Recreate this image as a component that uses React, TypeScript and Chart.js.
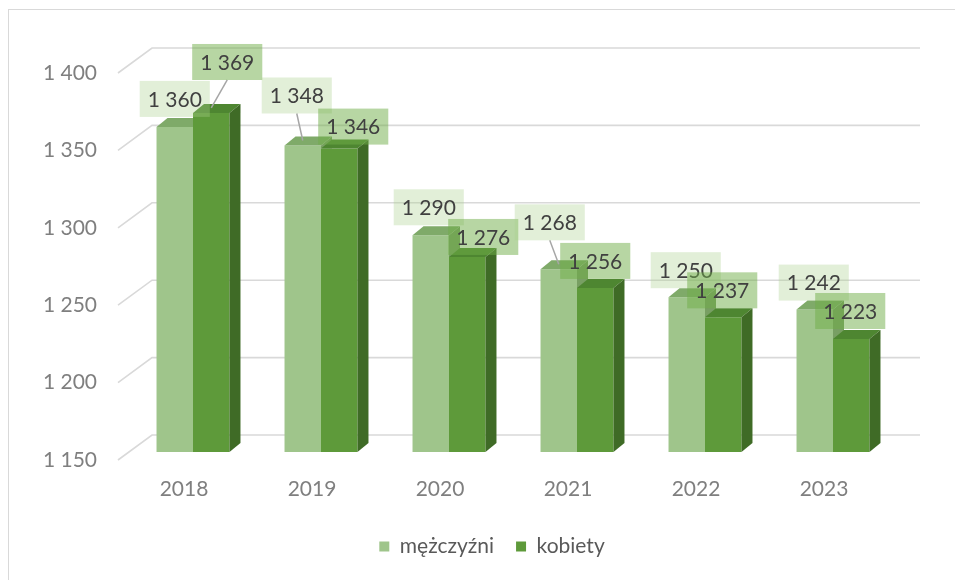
import React, { useEffect, useRef } from 'react';
import { Chart, registerables } from 'chart.js';

Chart.register(...registerables);

// ---- data ----
const categories = ['2018', '2019', '2020', '2021', '2022', '2023'];
const menValues = [1360, 1348, 1290, 1268, 1250, 1242];
const womenValues = [1369, 1346, 1276, 1256, 1237, 1223];
const seriesNames = ['mężczyźni', 'kobiety'];
const yMin = 1150;
const yMax = 1400;
const yStep = 50;

// ---- styles ----
const FONT = 'Lato';
const FONT_SIZE = 21;
const menColors = { front: '#9FC58B', top: '#7FAA69', side: '#789F63' };
const womenColors = { front: '#5E9A3A', top: '#4E8631', side: '#3F6B26' };
const labelBoxColors = ['rgba(169,209,142,0.34)', 'rgba(112,173,71,0.5)'];
// manual nudges of the data-label boxes (pixels) [dx, dy]
const menLabelNudge = [[0, 0], [-6, -22], [-2, 0], [-9, -19], [-1, 1], [-1, 1]];
const womenLabelNudge = [[16, -23], [14, 6], [16, 8], [0, 1], [-1, 1], [-1, 0]];
const DEPTH_X = 11;
const DEPTH_Y = 9;
const LEGEND_CENTER_X = 492;

const fmt = (v: number) => String(v).replace(/\B(?=(\d{3})+(?!\d))/g, ' ');

const wallPlugin = {
  id: 'wall3d',
  beforeDatasetsDraw(chart: any) {
    const { ctx, chartArea, scales } = chart;
    const y = scales.y;
    ctx.save();
    ctx.strokeStyle = '#d9d9d9';
    ctx.lineWidth = 1.6;
    y.ticks.forEach((t: any) => {
      const py = y.getPixelForValue(t.value);
      ctx.beginPath();
      ctx.moveTo(chartArea.left - 11, py + 8);
      ctx.lineTo(chartArea.left + 23, py - 17);
      ctx.lineTo(chartArea.right + 23, py - 17);
      ctx.stroke();
    });
    ctx.restore();
  },
};

const poly = (ctx: any, pts: number[][], color: string) => {
  ctx.beginPath();
  ctx.moveTo(pts[0][0], pts[0][1]);
  for (let i = 1; i < pts.length; i++) ctx.lineTo(pts[i][0], pts[i][1]);
  ctx.closePath();
  ctx.fillStyle = color;
  ctx.fill();
};

const barsPlugin = {
  id: 'bars3d',
  afterDatasetsDraw(chart: any) {
    const { ctx, chartArea } = chart;
    const m = chart.getDatasetMeta(0);
    const w = chart.getDatasetMeta(1);
    for (let i = 0; i < categories.length; i++) {
      const mb = m.data[i].getProps(['x', 'y', 'base', 'width'], true);
      const wb = w.data[i].getProps(['x', 'y', 'base', 'width'], true);
      const mBase = Math.min(mb.base, chartArea.bottom);
      const wBase = Math.min(wb.base, chartArea.bottom);
      const mx1 = mb.x - mb.width / 2;
      const mx2 = mb.x + mb.width / 2;
      ctx.save();
      ctx.beginPath();
      ctx.rect(0, 0, chart.width, chart.height);
      ctx.rect(wb.x - wb.width / 2, wb.y, wb.width, wBase - wb.y);
      ctx.clip('evenodd');
      poly(ctx, [[mx1, mb.y], [mx2, mb.y], [mx2 + DEPTH_X, mb.y - DEPTH_Y], [mx1 + DEPTH_X, mb.y - DEPTH_Y]], menColors.top);
      poly(ctx, [[mx2, mb.y], [mx2 + DEPTH_X, mb.y - DEPTH_Y], [mx2 + DEPTH_X, mBase - DEPTH_Y], [mx2, mBase]], menColors.side);
      ctx.restore();
      const wx1 = wb.x - wb.width / 2;
      const wx2 = wb.x + wb.width / 2;
      poly(ctx, [[wx1, wb.y], [wx2, wb.y], [wx2 + DEPTH_X, wb.y - DEPTH_Y], [wx1 + DEPTH_X, wb.y - DEPTH_Y]], womenColors.top);
      poly(ctx, [[wx2, wb.y], [wx2 + DEPTH_X, wb.y - DEPTH_Y], [wx2 + DEPTH_X, wBase - DEPTH_Y], [wx2, wBase]], womenColors.side);
    }
  },
};

const labelsPlugin = {
  id: 'boxLabels',
  afterDatasetsDraw(chart: any) {
    const { ctx } = chart;
    ctx.save();
    ctx.font = `${FONT_SIZE}px ${FONT}`;
    ctx.textAlign = 'center';
    ctx.textBaseline = 'middle';
    const nudges = [menLabelNudge, womenLabelNudge];
    for (let i = 0; i < categories.length; i++) {
      for (let d = 0; d < 2; d++) {
        const bar = chart.getDatasetMeta(d).data[i].getProps(['x', 'y'], true);
        const value = chart.data.datasets[d].data[i];
        const text = fmt(value);
        const tw = ctx.measureText(text).width;
        const bw = tw + 16;
        const bh = 36;
        const cx = bar.x + nudges[d][i][0];
        const cy = bar.y - 28 + nudges[d][i][1];
        const bottom = cy + bh / 2;
        if (bottom < bar.y - 15) {
          ctx.strokeStyle = '#a6a6a6';
          ctx.lineWidth = 1.5;
          ctx.beginPath();
          ctx.moveTo(cx, bottom);
          ctx.lineTo(bar.x, bar.y - 5);
          ctx.stroke();
        }
        ctx.fillStyle = labelBoxColors[d];
        ctx.fillRect(cx - bw / 2, cy - bh / 2, bw, bh);
        ctx.fillStyle = '#404040';
        ctx.fillText(text, cx, cy + 1);
      }
    }
    ctx.restore();
  },
};

const legendShiftPlugin = {
  id: 'legendShift',
  afterLayout(chart: any) {
    const lg = chart.legend;
    if (!lg) return;
    const shift = LEGEND_CENTER_X - (lg.left + lg.right) / 2;
    lg.left += shift;
    lg.right += shift;
  },
};

export default function App() {
  const ref = useRef<HTMLCanvasElement | null>(null);
  useEffect(() => {
    document.body.style.margin = '0';
    document.body.style.overflow = 'hidden';
    if (!ref.current) return;
    Chart.defaults.font.family = FONT;
    const chart = new Chart(ref.current, {
      type: 'bar',
      data: {
        labels: categories,
        datasets: [
          { label: seriesNames[0], data: menValues, backgroundColor: menColors.front, borderWidth: 0, categoryPercentage: 0.57, barPercentage: 1 },
          { label: seriesNames[1], data: womenValues, backgroundColor: womenColors.front, borderWidth: 0, categoryPercentage: 0.57, barPercentage: 1 },
        ],
      },
      options: {
        responsive: false,
        maintainAspectRatio: false,
        animation: false,
        events: [],
        layout: { padding: { left: 39, right: 58, top: 65, bottom: 21 } },
        scales: {
          x: {
            grid: { display: false, drawTicks: false },
            border: { display: false },
            ticks: { color: '#7f7f7f', font: { size: FONT_SIZE, family: FONT }, padding: 25, labelOffset: -9 },
            afterFit: (s: any) => { s.height = 62; },
          },
          y: {
            min: yMin,
            max: yMax,
            grid: { display: false, drawTicks: false },
            border: { display: false },
            ticks: {
              stepSize: yStep,
              color: '#7f7f7f',
              font: { size: FONT_SIZE, family: FONT },
              padding: 32,
              labelOffset: 8,
              callback: (v: any) => fmt(Number(v)),
            },
            afterFit: (s: any) => { s.width = 90; },
          },
        },
        plugins: {
          legend: {
            position: 'bottom',
            maxHeight: 45,
            labels: { boxWidth: 10, boxHeight: 10, padding: 22, color: '#595959', font: { size: FONT_SIZE, family: FONT } },
          },
          tooltip: { enabled: false },
        },
      },
      plugins: [wallPlugin, barsPlugin, labelsPlugin, legendShiftPlugin],
    });
    return () => chart.destroy();
  }, []);
  return (
    <div style={{ position: 'relative', width: 955, height: 580, overflow: 'hidden', background: '#fff' }}>
      <div style={{ position: 'absolute', left: 8, top: 9, width: 1000, height: 1000, borderLeft: '1.5px solid #d9d9d9', borderTop: '1.5px solid #d9d9d9' }} />
      <canvas ref={ref} width={955} height={580} style={{ position: 'absolute', left: 0, top: 0 }} />
    </div>
  );
}
